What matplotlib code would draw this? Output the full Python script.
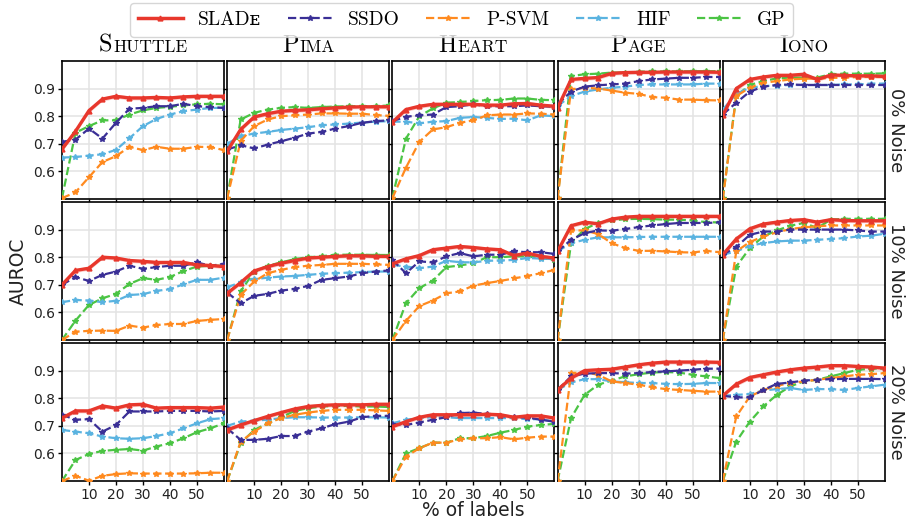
import matplotlib
matplotlib.use("Agg")
import matplotlib.pyplot as plt
import numpy as np
from matplotlib.lines import Line2D
from matplotlib.offsetbox import TextArea, HPacker, AnchoredOffsetbox

labels_pct = [0, 5, 10, 15, 20, 25, 30, 35, 40, 45, 50, 55, 60]
datasets = ["Shuttle", "Pima", "Heart", "Page", "Iono"]
noise_rows = ["0% Noise", "10% Noise", "20% Noise"]
methods = ["SLADe", "SSDO", "P-SVM", "HIF", "GP"]

# each list: [0% noise, 10% noise, 20% noise]
shuttle_slade = [[0.68, 0.745, 0.82, 0.862, 0.872, 0.866, 0.866, 0.868, 0.866, 0.87, 0.872, 0.872, 0.872],
                 [0.70, 0.752, 0.76, 0.80, 0.797, 0.788, 0.785, 0.781, 0.781, 0.781, 0.772, 0.77, 0.766],
                 [0.728, 0.754, 0.754, 0.772, 0.764, 0.776, 0.778, 0.764, 0.766, 0.766, 0.766, 0.764, 0.768]]
shuttle_ssdo = [[0.707, 0.715, 0.755, 0.719, 0.776, 0.827, 0.83, 0.836, 0.836, 0.845, 0.836, 0.833, 0.83],
                [0.70, 0.728, 0.714, 0.736, 0.748, 0.769, 0.758, 0.764, 0.769, 0.769, 0.781, 0.769, 0.776],
                [0.74, 0.722, 0.724, 0.679, 0.703, 0.752, 0.752, 0.752, 0.754, 0.754, 0.754, 0.752, 0.754]]
shuttle_psvm = [[0.503, 0.524, 0.579, 0.634, 0.655, 0.689, 0.677, 0.689, 0.682, 0.682, 0.689, 0.688, 0.677],
                [0.50, 0.53, 0.533, 0.534, 0.533, 0.552, 0.545, 0.554, 0.558, 0.558, 0.569, 0.573, 0.576],
                [0.50, 0.519, 0.501, 0.519, 0.525, 0.528, 0.527, 0.527, 0.527, 0.527, 0.528, 0.53, 0.53]]
shuttle_hif = [[0.65, 0.652, 0.657, 0.662, 0.678, 0.72, 0.764, 0.79, 0.806, 0.818, 0.824, 0.83, 0.83],
               [0.637, 0.645, 0.643, 0.637, 0.642, 0.663, 0.666, 0.678, 0.684, 0.702, 0.718, 0.718, 0.726],
               [0.685, 0.679, 0.673, 0.661, 0.655, 0.653, 0.655, 0.663, 0.673, 0.691, 0.709, 0.724, 0.728]]
shuttle_gp = [[0.503, 0.74, 0.764, 0.785, 0.785, 0.806, 0.821, 0.83, 0.834, 0.839, 0.843, 0.845, 0.843],
              [0.50, 0.57, 0.627, 0.651, 0.667, 0.703, 0.724, 0.718, 0.728, 0.75, 0.766, 0.769, 0.769],
              [0.50, 0.576, 0.598, 0.609, 0.613, 0.616, 0.61, 0.625, 0.637, 0.655, 0.677, 0.691, 0.709]]

pima_slade = [[0.673, 0.752, 0.797, 0.809, 0.818, 0.821, 0.823, 0.827, 0.83, 0.833, 0.834, 0.834, 0.834],
              [0.669, 0.708, 0.75, 0.766, 0.778, 0.788, 0.797, 0.80, 0.803, 0.805, 0.805, 0.803, 0.803],
              [0.685, 0.703, 0.719, 0.734, 0.748, 0.761, 0.77, 0.774, 0.776, 0.776, 0.776, 0.778, 0.778]]
pima_ssdo = [[0.679, 0.695, 0.683, 0.697, 0.709, 0.722, 0.737, 0.743, 0.755, 0.764, 0.776, 0.782, 0.785],
             [0.672, 0.633, 0.66, 0.667, 0.679, 0.685, 0.696, 0.718, 0.724, 0.73, 0.742, 0.748, 0.752],
             [0.691, 0.649, 0.649, 0.653, 0.663, 0.663, 0.679, 0.691, 0.706, 0.715, 0.731, 0.736, 0.736]]
pima_psvm = [[0.503, 0.71, 0.764, 0.788, 0.80, 0.803, 0.806, 0.81, 0.81, 0.809, 0.809, 0.804, 0.801],
             [0.50, 0.663, 0.712, 0.742, 0.754, 0.764, 0.769, 0.772, 0.776, 0.776, 0.776, 0.774, 0.772],
             [0.50, 0.643, 0.679, 0.709, 0.728, 0.74, 0.748, 0.754, 0.758, 0.758, 0.758, 0.756, 0.754]]
pima_hif = [[0.70, 0.728, 0.737, 0.743, 0.75, 0.755, 0.76, 0.767, 0.77, 0.773, 0.777, 0.78, 0.782],
            [0.691, 0.709, 0.72, 0.726, 0.73, 0.732, 0.736, 0.74, 0.742, 0.744, 0.746, 0.748, 0.748],
            [0.70, 0.715, 0.719, 0.722, 0.728, 0.731, 0.731, 0.73, 0.73, 0.73, 0.731, 0.731, 0.73]]
pima_gp = [[0.503, 0.788, 0.812, 0.824, 0.83, 0.833, 0.83, 0.833, 0.835, 0.836, 0.836, 0.836, 0.839],
           [0.50, 0.676, 0.748, 0.769, 0.781, 0.793, 0.80, 0.803, 0.809, 0.809, 0.809, 0.808, 0.808],
           [0.50, 0.637, 0.685, 0.709, 0.731, 0.754, 0.764, 0.77, 0.772, 0.772, 0.77, 0.77, 0.768]]

heart_slade = [[0.778, 0.824, 0.836, 0.843, 0.843, 0.843, 0.843, 0.84, 0.84, 0.845, 0.846, 0.84, 0.836],
               [0.776, 0.794, 0.806, 0.827, 0.833, 0.839, 0.835, 0.83, 0.827, 0.806, 0.815, 0.803, 0.797],
               [0.697, 0.715, 0.731, 0.74, 0.74, 0.74, 0.74, 0.742, 0.74, 0.731, 0.736, 0.736, 0.728]]
heart_ssdo = [[0.782, 0.798, 0.803, 0.806, 0.833, 0.836, 0.843, 0.836, 0.836, 0.836, 0.839, 0.836, 0.834],
              [0.79, 0.742, 0.785, 0.781, 0.803, 0.815, 0.803, 0.809, 0.809, 0.821, 0.818, 0.818, 0.812],
              [0.706, 0.703, 0.712, 0.722, 0.731, 0.746, 0.748, 0.743, 0.736, 0.731, 0.73, 0.722, 0.715]]
heart_psvm = [[0.503, 0.613, 0.707, 0.752, 0.76, 0.776, 0.785, 0.803, 0.806, 0.806, 0.81, 0.809, 0.806],
              [0.50, 0.569, 0.623, 0.643, 0.669, 0.676, 0.697, 0.706, 0.714, 0.723, 0.732, 0.742, 0.754],
              [0.50, 0.588, 0.619, 0.639, 0.639, 0.651, 0.655, 0.655, 0.659, 0.651, 0.657, 0.661, 0.661]]
heart_hif = [[0.78, 0.78, 0.774, 0.78, 0.782, 0.794, 0.797, 0.794, 0.79, 0.791, 0.785, 0.803, 0.80],
             [0.772, 0.766, 0.76, 0.766, 0.787, 0.782, 0.781, 0.787, 0.788, 0.79, 0.797, 0.795, 0.793],
             [0.709, 0.722, 0.728, 0.731, 0.731, 0.728, 0.728, 0.728, 0.728, 0.728, 0.724, 0.724, 0.715]]
heart_gp = [[0.503, 0.718, 0.80, 0.828, 0.849, 0.851, 0.855, 0.858, 0.859, 0.864, 0.864, 0.859, 0.858],
            [0.50, 0.633, 0.688, 0.715, 0.764, 0.77, 0.778, 0.80, 0.80, 0.803, 0.803, 0.797, 0.79],
            [0.50, 0.60, 0.619, 0.639, 0.639, 0.655, 0.655, 0.663, 0.675, 0.685, 0.697, 0.703, 0.707]]

page_slade = [[0.83, 0.933, 0.937, 0.94, 0.955, 0.958, 0.959, 0.959, 0.96, 0.96, 0.96, 0.96, 0.959],
              [0.821, 0.914, 0.927, 0.921, 0.938, 0.945, 0.948, 0.948, 0.948, 0.948, 0.948, 0.948, 0.948],
              [0.83, 0.873, 0.90, 0.903, 0.905, 0.913, 0.921, 0.927, 0.931, 0.931, 0.931, 0.931, 0.93]]
page_ssdo = [[0.843, 0.889, 0.907, 0.912, 0.915, 0.918, 0.927, 0.933, 0.936, 0.939, 0.939, 0.942, 0.942],
             [0.821, 0.863, 0.887, 0.897, 0.896, 0.902, 0.909, 0.915, 0.92, 0.924, 0.924, 0.924, 0.926],
             [0.83, 0.879, 0.889, 0.891, 0.891, 0.889, 0.891, 0.895, 0.897, 0.90, 0.903, 0.907, 0.907]]
page_psvm = [[0.503, 0.897, 0.903, 0.90, 0.893, 0.885, 0.881, 0.869, 0.867, 0.86, 0.86, 0.858, 0.857],
             [0.50, 0.897, 0.897, 0.884, 0.851, 0.833, 0.823, 0.823, 0.821, 0.818, 0.817, 0.823, 0.818],
             [0.50, 0.891, 0.894, 0.885, 0.861, 0.855, 0.849, 0.84, 0.833, 0.83, 0.827, 0.824, 0.824]]
page_hif = [[0.837, 0.873, 0.889, 0.897, 0.903, 0.907, 0.913, 0.915, 0.915, 0.915, 0.915, 0.918, 0.918],
            [0.821, 0.851, 0.863, 0.872, 0.872, 0.872, 0.873, 0.874, 0.874, 0.874, 0.874, 0.874, 0.874],
            [0.83, 0.857, 0.869, 0.869, 0.861, 0.858, 0.855, 0.855, 0.852, 0.851, 0.852, 0.855, 0.855]]
page_gp = [[0.503, 0.945, 0.952, 0.954, 0.958, 0.958, 0.961, 0.962, 0.962, 0.962, 0.963, 0.963, 0.963],
           [0.50, 0.851, 0.902, 0.924, 0.933, 0.938, 0.939, 0.938, 0.936, 0.936, 0.933, 0.927, 0.926],
           [0.50, 0.728, 0.812, 0.849, 0.864, 0.879, 0.887, 0.893, 0.895, 0.893, 0.885, 0.879, 0.873]]

iono_slade = [[0.803, 0.90, 0.933, 0.942, 0.948, 0.948, 0.952, 0.933, 0.949, 0.948, 0.946, 0.946, 0.944],
              [0.809, 0.866, 0.903, 0.92, 0.927, 0.933, 0.936, 0.927, 0.936, 0.933, 0.932, 0.932, 0.932],
              [0.809, 0.851, 0.875, 0.885, 0.895, 0.903, 0.909, 0.913, 0.918, 0.918, 0.915, 0.913, 0.909]]
iono_ssdo = [[0.806, 0.849, 0.889, 0.907, 0.913, 0.915, 0.913, 0.913, 0.913, 0.913, 0.913, 0.913, 0.913],
             [0.809, 0.837, 0.881, 0.893, 0.893, 0.90, 0.90, 0.90, 0.90, 0.90, 0.897, 0.893, 0.893],
             [0.809, 0.803, 0.803, 0.83, 0.852, 0.857, 0.864, 0.867, 0.869, 0.87, 0.87, 0.87, 0.869]]
iono_psvm = [[0.50, 0.873, 0.903, 0.921, 0.927, 0.933, 0.936, 0.936, 0.939, 0.939, 0.942, 0.942, 0.942],
             [0.50, 0.821, 0.855, 0.875, 0.89, 0.902, 0.908, 0.912, 0.915, 0.915, 0.915, 0.915, 0.915],
             [0.50, 0.734, 0.806, 0.83, 0.845, 0.855, 0.861, 0.867, 0.873, 0.879, 0.885, 0.887, 0.891]]
iono_hif = [[0.824, 0.881, 0.903, 0.909, 0.911, 0.913, 0.913, 0.913, 0.913, 0.915, 0.915, 0.918, 0.918],
            [0.809, 0.821, 0.841, 0.851, 0.857, 0.86, 0.86, 0.863, 0.866, 0.869, 0.875, 0.878, 0.885],
            [0.809, 0.812, 0.815, 0.828, 0.833, 0.837, 0.83, 0.833, 0.833, 0.83, 0.837, 0.843, 0.849]]
iono_gp = [[0.503, 0.873, 0.913, 0.927, 0.937, 0.94, 0.94, 0.94, 0.952, 0.954, 0.954, 0.954, 0.955],
           [0.50, 0.766, 0.833, 0.875, 0.897, 0.914, 0.924, 0.906, 0.936, 0.939, 0.939, 0.939, 0.939],
           [0.50, 0.643, 0.715, 0.77, 0.812, 0.843, 0.861, 0.867, 0.879, 0.891, 0.903, 0.907, 0.907]]

results = {
    "Shuttle": [shuttle_slade, shuttle_ssdo, shuttle_psvm, shuttle_hif, shuttle_gp],
    "Pima": [pima_slade, pima_ssdo, pima_psvm, pima_hif, pima_gp],
    "Heart": [heart_slade, heart_ssdo, heart_psvm, heart_hif, heart_gp],
    "Page": [page_slade, page_ssdo, page_psvm, page_hif, page_gp],
    "Iono": [iono_slade, iono_ssdo, iono_psvm, iono_hif, iono_gp],
}

colors = ["#e8372c", "#3a2f96", "#ff8a1f", "#5ab3e0", "#4bc444"]
serif = ["cmr10", "DejaVu Serif", "DejaVu Sans"]

fig = plt.figure(figsize=(9.14, 5.28), dpi=100)
axes = fig.subplots(3, 5, sharex=True, sharey=True,
                    gridspec_kw=dict(left=0.0678, right=0.968, top=0.8845, bottom=0.089,
                                     wspace=0.02, hspace=0.022))
x = np.array(labels_pct)

for c, name in enumerate(datasets):
    for r in range(3):
        ax = axes[r, c]
        for m in range(4, 0, -1):
            y = results[name][m][r]
            ax.plot(x, y, "--", color=colors[m], lw=1.6, marker="*", ms=4, zorder=3)
        y = np.array(results[name][0][r])
        ax.fill_between(x, y - 0.007, y + 0.007, color=colors[0], alpha=0.25, lw=0, zorder=4)
        ax.plot(x, y, "-", color=colors[0], lw=2.4, marker="^", ms=3.5, zorder=5)

        ax.set_xlim(0, 60)
        ax.set_ylim(0.5, 1.0)
        ax.set_xticks([10, 20, 30, 40, 50])
        ax.set_yticks([0.6, 0.7, 0.8, 0.9])
        ax.grid(True, color="#e3e3e3", lw=1.1)
        ax.set_axisbelow(True)
        for s in ax.spines.values():
            s.set_color("black")
            s.set_linewidth(1.2)
        ax.tick_params(direction="out", length=3, width=1, colors="black",
                       labelsize=10, labelcolor="#222222", pad=2)
        if r == 0:
            box = HPacker(children=[TextArea(name[0], textprops=dict(fontsize=17.5, family=serif)),
                                    TextArea(name[1:].upper(), textprops=dict(fontsize=12.5, family=serif))],
                          align="baseline", pad=0, sep=0.5)
            ab = AnchoredOffsetbox(loc="lower center", child=box, pad=0, borderpad=0, frameon=False,
                                   bbox_to_anchor=(0.5, 1.03), bbox_transform=ax.transAxes)
            ax.add_artist(ab)

for r, lab in enumerate(noise_rows):
    axes[r, 4].text(1.07, 0.5, lab, rotation=-90, transform=axes[r, 4].transAxes,
                    ha="center", va="center", fontsize=13, color="#222222")

fig.text(0.02, 0.487, "AUROC", rotation=90, ha="center", va="center", fontsize=13.5, color="#222222")
fig.text(0.518, 0.033, "% of labels", ha="center", va="center", fontsize=13.5, color="#222222")

handles = []
for m in range(5):
    if m == 0:
        handles.append(Line2D([], [], color=colors[0], lw=2.5, marker="^", ms=3.5))
    else:
        handles.append(Line2D([], [], color=colors[m], lw=1.6, ls="--", marker="*", ms=4))
leg_labels = ["SLADᴇ", "SSDO", "P-SVM", "HIF", "GP"]
fig.legend(handles, leg_labels, loc="upper center", bbox_to_anchor=(0.505, 0.994), ncol=5,
           prop=dict(family=serif, size=14), handlelength=2.3, columnspacing=1.35,
           borderpad=0.4, borderaxespad=0, handletextpad=0.8, frameon=True, fancybox=True,
           edgecolor="#cccccc")

fig.savefig("out.png", dpi=100)
